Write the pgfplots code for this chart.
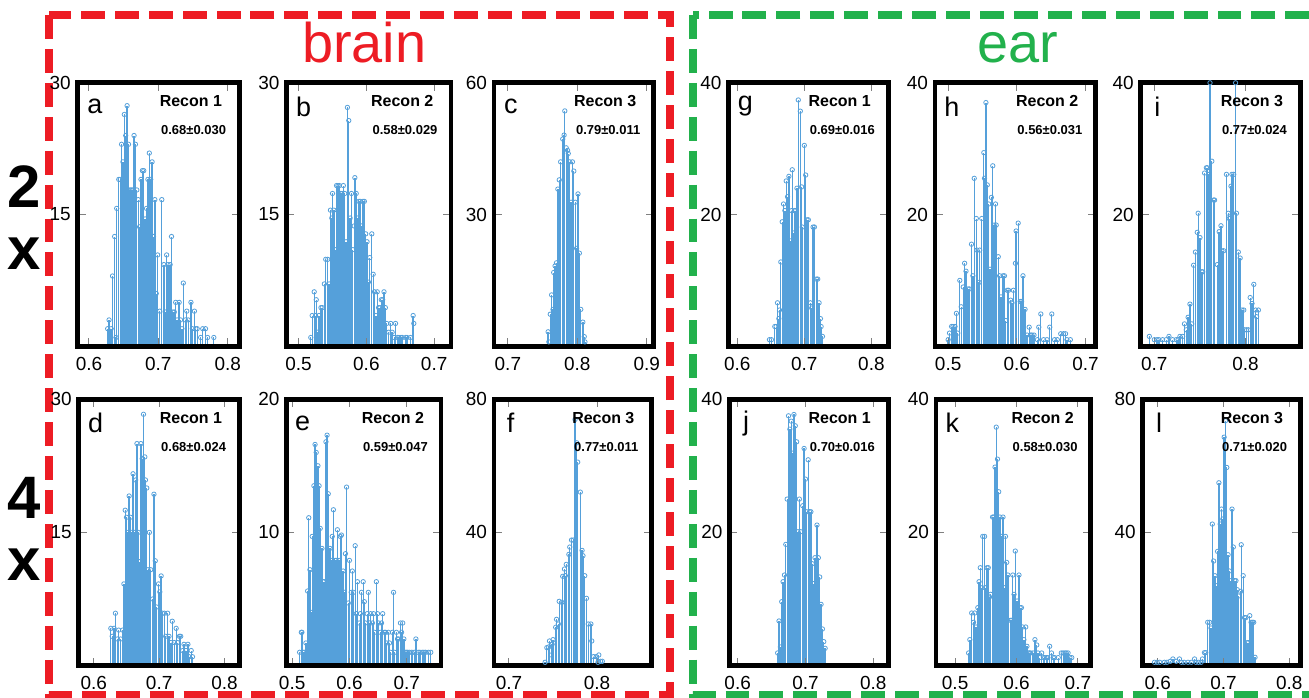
\documentclass[border=0pt]{standalone}
\usepackage{fontspec}
\setmainfont{Liberation Sans}
\usepackage{pgfplots}
\pgfplotsset{compat=1.18}

\definecolor{brainred}{RGB}{237,28,36}
\definecolor{eargreen}{RGB}{34,177,76}
\definecolor{stemblue}{RGB}{85,160,218}

\pgfplotsset{
  panel/.style={scale only axis, anchor=north west, ymin=0, axis on top,
    axis line style={line width=2.4pt,black},
    tick align=inside, major tick length=4pt,
    tick style={gray,line width=0.5pt},
    ticklabel style={font=\fontsize{9.5}{10}\selectfont},
    /pgf/number format/assume math mode=true,
    xticklabel style={yshift=-2pt}},
  lbl/.style n args={3}{extra description/.append code={
    \node[font=\fontsize{13.5}{13.5}\selectfont] at (axis description cs:0.105,0.91) {#1};
    \node[anchor=east,font=\bfseries\fontsize{8}{8}\selectfont] at (axis description cs:0.935,0.93) {#2};
    \node[anchor=east,font=\bfseries\fontsize{6.5}{7}\selectfont] at (axis description cs:0.96,0.82) {#3};}},
  stem/.style={ycomb, color=stemblue, line width=0.65pt, mark=o, mark size=1.1pt,
    mark options={line width=0.4pt}},
}

\begin{document}
\begin{tikzpicture}
\begin{scope}[x=0.5pt,y=-0.5pt]
\path[use as bounding box] (0,0) rectangle (1309,699);
% group boxes
\draw[brainred,line width=4pt,dash pattern=on 12pt off 5pt] (49,15) rectangle (671,696);
\draw[eargreen,line width=4pt,dash pattern=on 12pt off 5pt] (694,15) rectangle (1325,696);
\node[anchor=base,text=brainred,font=\fontsize{28}{28}\selectfont] at (365,63) {brain};
\node[anchor=base,text=eargreen,font=\fontsize{28}{28}\selectfont] at (1020,63) {ear};
\node[anchor=base,font=\bfseries\fontsize{30}{30}\selectfont] at (24,208) {2};
\node[anchor=base,font=\bfseries\fontsize{30}{30}\selectfont] at (24,270) {x};
\node[anchor=base,font=\bfseries\fontsize{30}{30}\selectfont] at (24,520) {4};
\node[anchor=base,font=\bfseries\fontsize{30}{30}\selectfont] at (24,582) {x};
\end{scope}

% ---- row 1 (2x) ----
\begin{axis}[panel, at={(39pt,-41.5pt)}, width=81pt, height=132pt,
  xmin=0.584, xmax=0.817, ymax=30, xtick={0.6,0.7,0.8}, ytick={15,30},
  lbl={a}{Recon 1}{0.68±0.030}]
\addplot[stem] coordinates {(0.627,2)(0.629,3)(0.632,2)(0.634,8)(0.637,12.5)(0.639,1)(0.640,15.7)(0.643,19)(0.645,19)(0.647,23)(0.649,21)(0.651,26.4)(0.653,24)(0.655,27.4)(0.657,23)(0.659,17.8)(0.661,17.8)(0.663,17.8)(0.665,24)(0.667,23)(0.669,17.8)(0.671,16.7)(0.673,13.6)(0.675,19)(0.677,20)(0.679,20)(0.681,14.5)(0.683,15.7)(0.685,19)(0.687,22)(0.689,19)(0.691,21)(0.693,12.5)(0.695,16.7)(0.697,6)(0.699,10.4)(0.702,4)(0.705,16.7)(0.708,9.3)(0.710,3.9)(0.712,10.4)(0.714,9.3)(0.717,9.3)(0.719,12.5)(0.721,3.9)(0.723,3.9)(0.725,5)(0.727,3)(0.730,5)(0.732,3)(0.734,2)(0.736,7.2)(0.739,3)(0.741,4)(0.743,3)(0.747,5)(0.749,2)(0.752,4)(0.754,2)(0.756,2)(0.761,1)(0.764,2)(0.768,2)(0.771,1)(0.780,1)};
\end{axis}

\begin{axis}[panel, at={(143.5pt,-41.5pt)}, width=82.5pt, height=132pt,
  xmin=0.482, xmax=0.725, ymax=30, xtick={0.5,0.6,0.7}, ytick={15,30},
  lbl={b}{Recon 2}{0.58±0.029}]
\addplot[stem] coordinates {(0.518,1)(0.520,3.5)(0.523,6.2)(0.525,3.5)(0.526,5.3)(0.528,1.6)(0.530,3.5)(0.533,4.4)(0.535,4.4)(0.538,7.1)(0.540,9.9)(0.543,9.9)(0.545,7.1)(0.547,15.5)(0.549,14.6)(0.550,17.4)(0.552,15.5)(0.554,11)(0.556,18.3)(0.558,18.3)(0.560,18.3)(0.562,17.4)(0.564,17.4)(0.566,18.3)(0.568,17.4)(0.570,11.9)(0.572,27.2)(0.574,25.7)(0.576,14.6)(0.578,17.4)(0.580,11)(0.582,13.7)(0.583,19.2)(0.585,17.4)(0.587,14.6)(0.589,16.5)(0.591,16.5)(0.593,13.7)(0.595,16.5)(0.597,16.5)(0.599,12.8)(0.601,11.9)(0.603,7.3)(0.605,10.1)(0.608,12.8)(0.610,8.2)(0.612,6.2)(0.614,3.5)(0.616,6.2)(0.618,4.4)(0.620,4.4)(0.622,5.3)(0.624,5.3)(0.626,6.2)(0.628,4.4)(0.630,2.6)(0.633,1.6)(0.636,2.6)(0.638,1.6)(0.641,1)(0.643,2.6)(0.646,1)(0.648,1)(0.651,1)(0.653,1)(0.658,1)(0.660,1)(0.665,1)(0.669,3.5)(0.670,2.6)};
\end{axis}

\begin{axis}[panel, at={(247.5pt,-41.5pt)}, width=80pt, height=132pt,
  xmin=0.680, xmax=0.910, ymax=60, xtick={0.7,0.8,0.9}, ytick={30,60},
  lbl={c}{Recon 3}{0.79±0.011}]
\addplot[stem] coordinates {(0.758,3.3)(0.759,1)(0.761,7.3)(0.763,11.7)(0.765,8.4)(0.766,16.8)(0.768,18.3)(0.770,19)(0.772,35.8)(0.774,37.9)(0.776,42)(0.779,47.2)(0.781,48.1)(0.782,53.6)(0.784,45.2)(0.786,44.6)(0.787,43.9)(0.789,42)(0.791,32.8)(0.793,42)(0.795,39.9)(0.797,32.8)(0.799,22.3)(0.801,34.7)(0.803,21.2)(0.805,8.4)(0.808,5.5)(0.810,2.2)(0.811,1)};
\end{axis}

\begin{axis}[panel, at={(365pt,-41.5pt)}, width=80pt, height=132pt,
  xmin=0.587, xmax=0.825, ymax=40, xtick={0.6,0.7,0.8}, ytick={20,40},
  lbl={g}{Recon 1}{0.69±0.016}]
\addplot[stem] coordinates {(0.648,1)(0.651,1)(0.656,3)(0.658,3)(0.660,6.6)(0.662,4.2)(0.663,5.5)(0.665,12.8)(0.667,18.9)(0.669,21.6)(0.671,20.6)(0.673,25.1)(0.675,22.7)(0.677,25.8)(0.679,16)(0.681,20.6)(0.682,26.8)(0.684,17.2)(0.685,20.6)(0.687,20.6)(0.689,24)(0.691,37.4)(0.694,35.7)(0.696,24.2)(0.697,18.1)(0.700,30.5)(0.702,26)(0.704,19.2)(0.706,19.2)(0.709,6.6)(0.711,5.8)(0.713,18.1)(0.715,18.1)(0.718,10.2)(0.720,10.2)(0.722,6.6)(0.724,4.2)(0.725,3)(0.727,1.5)};
\addplot[stemblue,line width=0.8pt] coordinates {(0.587,0)(0.825,0)};
\end{axis}

\begin{axis}[panel, at={(468.5pt,-41.5pt)}, width=80.5pt, height=132pt,
  xmin=0.481, xmax=0.715, ymax=40, xtick={0.5,0.6,0.7}, ytick={20,40},
  lbl={h}{Recon 2}{0.56±0.031}]
\addplot[stem] coordinates {(0.500,1)(0.502,2)(0.505,3)(0.507,3)(0.510,3)(0.512,5)(0.514,2)(0.517,10)(0.519,6)(0.522,9)(0.524,12.6)(0.526,11.4)(0.529,8.7)(0.531,8.7)(0.534,15.5)(0.536,10.7)(0.538,25.5)(0.541,19.4)(0.542,14.6)(0.545,9.7)(0.546,14.6)(0.549,19.4)(0.552,29.4)(0.553,25.5)(0.555,37)(0.557,24.5)(0.559,21.6)(0.561,11.7)(0.563,22.6)(0.565,27.4)(0.567,18.4)(0.569,21.6)(0.570,18.4)(0.573,13.6)(0.575,10.7)(0.577,7.5)(0.579,6.6)(0.580,10.7)(0.582,10.7)(0.584,3.9)(0.586,8.5)(0.588,8.5)(0.591,7)(0.593,6.6)(0.595,8.5)(0.598,12.6)(0.599,17.5)(0.602,18.7)(0.605,6.8)(0.607,6.8)(0.609,10.7)(0.612,5.6)(0.615,1.7)(0.618,2.9)(0.620,1.7)(0.622,1.7)(0.625,1.7)(0.630,1)(0.632,2.9)(0.635,4.9)(0.639,1)(0.644,1)(0.648,2.9)(0.651,4.9)(0.655,1)(0.659,1)(0.664,1.9)(0.668,1.9)(0.671,1.9)(0.673,1)(0.678,1)};
\end{axis}

\begin{axis}[panel, at={(571.5pt,-41.5pt)}, width=80pt, height=132pt,
  xmin=0.685, xmax=0.860, ymax=40, xtick={0.7,0.8}, ytick={20,40},
  lbl={i}{Recon 3}{0.77±0.024}]
\addplot[stem] coordinates {(0.6945,1.5)(0.700,1)(0.703,1)(0.705,1)(0.709,1)(0.713,1)(0.716,1.5)(0.720,1)(0.724,1)(0.726,1)(0.728,1.5)(0.731,1.5)(0.733,3.4)(0.735,2.5)(0.737,4.4)(0.739,6.4)(0.741,3.4)(0.743,12.3)(0.745,14.3)(0.747,17.3)(0.748,20.2)(0.750,16.5)(0.752,11.3)(0.753,11.3)(0.755,26.3)(0.757,27.1)(0.758,27.1)(0.760,26.1)(0.761,40)(0.763,28.1)(0.765,22.2)(0.766,22.2)(0.769,12.4)(0.771,17.4)(0.773,18.3)(0.774,14.5)(0.776,14.5)(0.779,26.1)(0.781,20.2)(0.782,19.4)(0.784,24.3)(0.785,26.1)(0.787,26.1)(0.789,40)(0.790,20.2)(0.792,14.3)(0.794,13.4)(0.796,5.5)(0.798,5.5)(0.799,2.5)(0.801,2.5)(0.803,2.5)(0.805,7.4)(0.807,6.5)(0.809,9.4)(0.811,5.5)(0.812,4.5)(0.814,5.5)};
\end{axis}

% ---- row 2 (4x) ----
\begin{axis}[panel, at={(39.5pt,-200pt)}, width=80.5pt, height=133.5pt,
  xmin=0.577, xmax=0.823, ymax=30, xtick={0.6,0.7,0.8}, ytick={15,30},
  lbl={d}{Recon 1}{0.68±0.024}]
\addplot[stem] coordinates {(0.626,4.2)(0.628,3.3)(0.631,4.2)(0.633,5.9)(0.636,3)(0.638,4)(0.641,3)(0.644,4)(0.646,9.2)(0.648,17.5)(0.650,16.7)(0.652,15)(0.654,19.1)(0.656,16.7)(0.658,15)(0.660,21.6)(0.662,15)(0.664,20.9)(0.666,25)(0.668,15)(0.670,11.7)(0.672,25)(0.674,23.3)(0.676,28.3)(0.678,23.5)(0.679,20.9)(0.681,20)(0.683,10.8)(0.685,15)(0.687,10.8)(0.690,7.5)(0.692,19.3)(0.694,11.8)(0.696,6.6)(0.699,9.2)(0.701,8.3)(0.703,10.1)(0.705,5.9)(0.708,5.9)(0.710,3.3)(0.713,5.9)(0.715,3.3)(0.718,2.6)(0.720,5)(0.723,2.6)(0.726,4.2)(0.728,2.6)(0.731,3.3)(0.733,3.3)(0.736,1.7)(0.738,2.4)(0.741,1.7)(0.744,2.4)(0.746,1)(0.749,1.7)(0.751,1)};
\addplot[stemblue,line width=0.8pt] coordinates {(0.577,0)(0.823,0)};
\end{axis}

\begin{axis}[panel, at={(143.5pt,-200pt)}, width=77.5pt, height=133.5pt,
  xmin=0.49, xmax=0.76, ymax=20, xtick={0.5,0.6,0.7}, ytick={10,20},
  lbl={e}{Recon 2}{0.59±0.047}]
\addplot[stem] coordinates {(0.513,1)(0.516,2.5)(0.517,2.5)(0.519,1)(0.521,1)(0.524,1.7)(0.527,5.6)(0.529,11.1)(0.531,7.2)(0.533,4)(0.535,9.7)(0.538,13.5)(0.540,16.6)(0.542,16)(0.545,15)(0.547,13.5)(0.549,10.3)(0.552,8.8)(0.554,6.3)(0.556,6.3)(0.559,16.8)(0.561,17.3)(0.563,12.9)(0.566,8.8)(0.568,7.9)(0.570,9.7)(0.572,11.7)(0.575,7.9)(0.577,7.9)(0.579,10.2)(0.582,7.9)(0.584,9.7)(0.586,9.8)(0.589,7.1)(0.591,5.5)(0.593,8.4)(0.595,13.4)(0.598,4.7)(0.600,7.9)(0.603,5.5)(0.605,7.1)(0.607,5.5)(0.610,9)(0.612,3.9)(0.614,6.3)(0.617,3.2)(0.619,3.9)(0.621,5.5)(0.624,6.3)(0.626,4.8)(0.628,3.2)(0.631,3.9)(0.633,5.5)(0.635,3.2)(0.637,3.9)(0.640,3.2)(0.642,3.9)(0.644,2.5)(0.647,6.3)(0.649,3.9)(0.651,3.2)(0.654,2.5)(0.656,3.2)(0.658,3.9)(0.661,2.5)(0.663,2.5)(0.665,1.7)(0.668,2.5)(0.670,1.7)(0.672,1)(0.675,2.5)(0.677,5.5)(0.679,1)(0.682,2.5)(0.684,2)(0.686,2)(0.689,3.2)(0.691,2.5)(0.693,3.2)(0.695,2)(0.698,1)(0.700,1)(0.702,1)(0.705,1)(0.709,1)(0.713,1)(0.716,2)(0.720,1)(0.723,1)(0.727,1)(0.730,1)(0.733,1)(0.738,1)(0.742,1)};
\addplot[stemblue,line width=0.8pt] coordinates {(0.49,0)(0.76,0)};
\end{axis}

\begin{axis}[panel, at={(247.5pt,-200pt)}, width=79pt, height=133.5pt,
  xmin=0.683, xmax=0.862, ymax=80, xtick={0.7,0.8}, ytick={40,80},
  lbl={f}{Recon 3}{0.77±0.011}]
\addplot[stem] coordinates {(0.741,1)(0.743,5.4)(0.745,5.6)(0.746,7.4)(0.748,3.2)(0.749,6.4)(0.750,7.8)(0.753,11.5)(0.754,13.9)(0.756,12.5)(0.757,19.3)(0.760,19)(0.761,26.8)(0.763,29)(0.764,27)(0.765,30.4)(0.768,33.4)(0.769,35.6)(0.771,37.7)(0.773,37.7)(0.775,73.9)(0.777,66.9)(0.778,61.1)(0.781,52.1)(0.783,34.6)(0.784,33)(0.786,27)(0.788,20.2)(0.790,12.5)(0.793,12.5)(0.794,7.4)(0.796,2.7)(0.799,2.7)(0.801,1)(0.802,3.2)(0.804,1.3)(0.806,1.3)};
\end{axis}

\begin{axis}[panel, at={(365.5pt,-200pt)}, width=79.5pt, height=133.5pt,
  xmin=0.588, xmax=0.822, ymax=40, xtick={0.6,0.7,0.8}, ytick={20,40},
  lbl={j}{Recon 1}{0.70±0.016}]
\addplot[stem] coordinates {(0.659,1.9)(0.661,6.7)(0.663,2.8)(0.665,9.6)(0.667,12.6)(0.669,13.6)(0.671,18.2)(0.673,25)(0.675,37.5)(0.677,35.5)(0.679,36.7)(0.681,31.9)(0.683,37.7)(0.685,36)(0.687,33.6)(0.689,20.1)(0.691,25)(0.693,20.1)(0.696,24)(0.698,32.6)(0.700,28)(0.702,23.1)(0.704,30.9)(0.706,23.1)(0.708,23.1)(0.710,15.3)(0.712,12.3)(0.714,16.2)(0.717,21.1)(0.719,16.2)(0.721,13.3)(0.723,9.2)(0.725,5.5)(0.727,3.6)(0.729,2.6)};
\end{axis}

\begin{axis}[panel, at={(469pt,-200pt)}, width=77.5pt, height=133.5pt,
  xmin=0.469, xmax=0.721, ymax=40, xtick={0.5,0.6,0.7}, ytick={20,40},
  lbl={k}{Recon 2}{0.58±0.030}]
\addplot[stem] coordinates {(0.522,1.9)(0.524,3.9)(0.527,7.9)(0.530,6.5)(0.532,7.9)(0.534,5.8)(0.537,8.7)(0.539,12.6)(0.541,14.7)(0.544,11.7)(0.545,19.4)(0.548,19.4)(0.550,11.7)(0.552,14.7)(0.554,14.7)(0.556,10.3)(0.558,10.7)(0.561,22.3)(0.563,22.3)(0.565,29.8)(0.567,35.8)(0.569,31)(0.571,26.1)(0.573,22.3)(0.576,19.4)(0.578,22.3)(0.580,11.7)(0.582,19.4)(0.584,15.5)(0.586,13.6)(0.590,6.8)(0.592,6.8)(0.594,13.6)(0.596,10.7)(0.598,17.2)(0.601,9.7)(0.604,13.6)(0.606,8.7)(0.608,8.7)(0.610,5.8)(0.612,3.9)(0.615,5.8)(0.617,2.9)(0.619,1.9)(0.621,1.9)(0.623,1.9)(0.627,1.9)(0.630,3.9)(0.633,3.1)(0.635,1.9)(0.638,1.2)(0.641,1.9)(0.644,1.2)(0.646,1.2)(0.649,1.2)(0.651,1.2)(0.654,2.9)(0.657,1.9)(0.660,1.2)(0.662,1.2)(0.668,1.2)(0.673,1.9)(0.676,1.9)(0.679,1.9)(0.681,1.9)(0.684,1.9)(0.687,1.2)(0.690,1.2)};
\addplot[stemblue,line width=0.8pt] coordinates {(0.469,0)(0.721,0)};
\end{axis}

\begin{axis}[panel, at={(572.5pt,-200pt)}, width=79pt, height=133.5pt,
  xmin=0.577, xmax=0.817, ymax=80, xtick={0.6,0.7,0.8}, ytick={40,80},
  lbl={l}{Recon 3}{0.71±0.020}]
\addplot[stem] coordinates {(0.595,1)(0.599,1)(0.603,1)(0.610,1)(0.614,1)(0.619,1.3)(0.623,2)(0.628,1.3)(0.633,2)(0.636,1)(0.640,1)(0.646,1)(0.651,1)(0.656,2)(0.658,1)(0.662,1)(0.666,1)(0.668,2)(0.671,3.9)(0.673,3.9)(0.676,13)(0.679,13)(0.681,11.3)(0.683,42.5)(0.685,31.4)(0.687,27)(0.689,24)(0.691,34.3)(0.693,54.9)(0.695,42.5)(0.697,47)(0.699,44)(0.701,68.6)(0.703,73.5)(0.705,59.5)(0.707,33.3)(0.709,28.4)(0.711,25.5)(0.713,47)(0.715,35.6)(0.717,25.5)(0.719,25.5)(0.721,22.8)(0.723,20.9)(0.726,22.3)(0.727,36.3)(0.730,27)(0.732,14.4)(0.734,14.4)(0.736,6.9)(0.738,6.9)(0.740,15)(0.742,13)(0.744,13)(0.746,13)(0.748,2.5)};
\addplot[stemblue,line width=0.8pt] coordinates {(0.577,0)(0.817,0)};
\end{axis}
\end{tikzpicture}
\end{document}
